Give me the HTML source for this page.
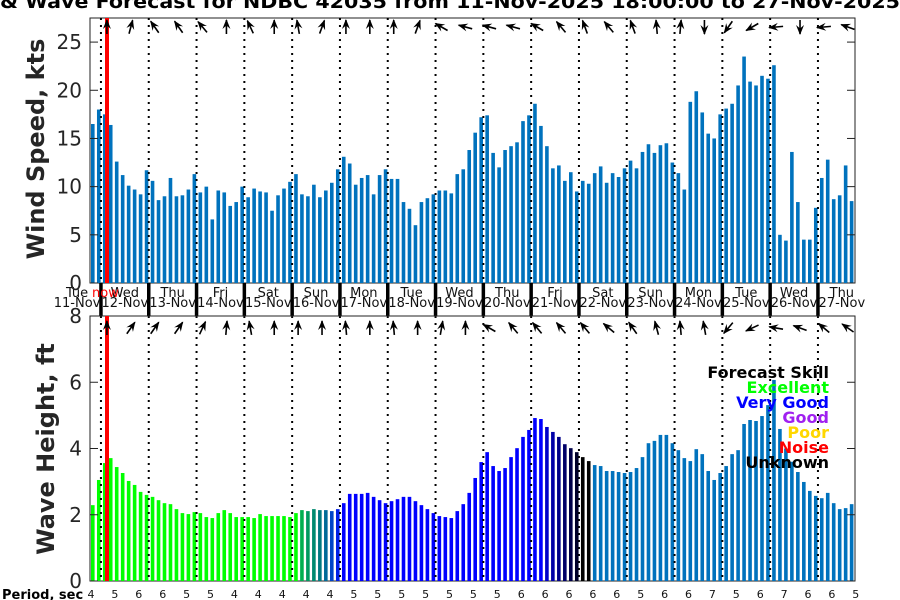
<!DOCTYPE html>
<html><head><meta charset="utf-8"><style>
body{margin:0;background:#fff}
svg{display:block;font-family:"DejaVu Sans","Liberation Sans",sans-serif}
</style></head><body>
<svg id="c" width="900" height="600" viewBox="0 0 900 600"></svg>
<script>
const windSpeed=[16.5,18.0,17.5,16.4,12.6,11.2,10.1,9.7,9.2,11.7,10.6,8.6,9.0,10.9,9.0,9.1,9.7,11.3,9.4,10.0,6.6,9.6,9.4,8.0,8.4,10.0,8.9,9.8,9.5,9.4,7.5,9.1,9.8,10.5,11.3,9.2,9.0,10.2,8.9,9.6,10.4,11.8,13.1,12.4,10.2,10.9,11.2,9.2,11.2,11.8,10.8,10.8,8.4,7.7,6.0,8.4,8.8,9.2,9.6,9.6,
9.3,11.3,11.8,13.8,15.6,17.2,17.4,13.5,12.0,13.8,14.2,14.6,16.8,17.4,18.6,16.3,14.2,11.9,12.2,10.6,11.5,9.5,10.6,10.3,11.4,12.1,10.4,11.4,11.0,11.9,12.7,11.9,13.6,14.4,13.5,14.3,14.5,12.5,11.4,9.7,18.8,19.9,17.7,15.5,15.0,17.5,18.1,18.6,20.5,23.5,20.9,20.5,21.5,21.2,22.6,5.0,4.4,13.6,8.4,4.5,4.5,7.8,10.9,12.8,8.7,9.1,12.2,8.5];
const waveHeight=[2.29,3.05,3.56,3.71,3.44,3.26,3.02,2.90,2.69,2.60,2.54,2.44,2.35,2.32,2.17,2.05,2.02,2.08,2.05,1.93,1.90,2.05,2.14,2.05,1.93,1.93,1.93,1.90,2.02,1.96,1.96,1.96,1.96,1.93,2.05,2.14,2.11,2.17,2.14,2.14,2.11,2.17,2.35,2.63,2.63,2.63,2.66,2.54,2.44,2.35,2.41,2.47,2.54,2.54,2.41,2.29,2.17,2.05,1.96,1.93,
1.90,2.11,2.32,2.66,3.11,3.59,3.89,3.47,3.32,3.41,3.74,4.01,4.35,4.56,4.92,4.89,4.65,4.50,4.35,4.13,4.01,3.89,3.74,3.62,3.50,3.47,3.32,3.32,3.29,3.26,3.29,3.41,3.74,4.16,4.23,4.41,4.41,4.16,3.95,3.71,3.62,3.98,3.83,3.32,3.05,3.26,3.47,3.83,3.95,4.74,4.86,4.83,4.98,5.31,6.07,4.59,4.0,3.6,3.29,2.99,2.72,2.57,2.50,2.66,2.35,2.17,2.20,2.32];
const waveColorIdx={35:'#00b050',36:'#009a60',37:'#008a70',38:'#007a80',39:'#006a98',40:'#0045c8',41:'#0020e8',76:'#0000c8',77:'#0000a8',78:'#000088',79:'#000068',80:'#000048',81:'#000028',82:'#000000',83:'#000000'};
const windDir=[0,15,-35,-35,-40,0,-25,0,-10,20,0,0,0,20,-60,-75,-75,-75,-60,-40,-20,-40,-20,-5,5,180,-145,-120,-95,180,-95,-70];
const waveDir=[0,35,35,35,25,5,-10,0,0,0,-5,0,-5,0,10,0,-60,-40,-40,-40,-40,-50,-35,-15,-5,-10,-140,-115,-80,-70,-50,-55];
const periods=[4,5,6,6,5,5,4,4,4,4,4,5,5,5,5,5,5,5,6,6,6,6,6,5,6,6,7,5,6,7,6,6,5];
const dayNames=['Tue','Wed','Thu','Fri','Sat','Sun','Mon','Tue','Wed','Thu','Fri','Sat','Sun','Mon','Tue','Wed','Thu'];
const dayDates=['11-Nov','12-Nov','13-Nov','14-Nov','15-Nov','16-Nov','17-Nov','18-Nov','19-Nov','20-Nov','21-Nov','22-Nov','23-Nov','24-Nov','25-Nov','26-Nov','27-Nov'];
const windTicks=[0,5,10,15,20,25];
const waveTicks=[0,2,4,6,8];
const legendLabels=['Forecast Skill','Excellent','Very Good','Good','Poor','Noise','Unknown'];
const legendColors=['#000','#00ff00','#0000ff','#a020f0','#ffd700','#ff0000','#000'];

const S=document.getElementById('c'),NS='http://www.w3.org/2000/svg';
function mk(t,a,p){const e=document.createElementNS(NS,t);for(const k in a)e.setAttribute(k,a[k]);(p||S).appendChild(e);return e;}
const L=90,R=855,T1=18,B1=283,T2=316,B2=581;
const xT=t=>89+t*(47.8/24);
const yW=v=>B1-v*(B1-T1)/27.5;
const yH=v=>B2-v*(B2-T2)/8;
let e;
e=mk('rect',{x:L,y:T1,width:R-L,height:B1-T1,fill:'#fff',stroke:'#222'});

e=mk('rect',{x:L,y:T2,width:R-L,height:B2-T2,fill:'#fff',stroke:'#222'});

windSpeed.forEach((v,i)=>{const x=xT(3*i)+2;
 const b=mk('rect',{x:x,y:yW(v),width:3.6,height:B1-yW(v),fill:'#0072bd'});
 
 });
waveHeight.forEach((v,i)=>{const x=xT(3*i)+2;
 const c=waveColorIdx[i]||(i<35?'#00ff00':(i<84?'#0000ff':'#0072bd'));
 const b=mk('rect',{x:x,y:yH(v),width:3.6,height:B2-yH(v),fill:c});
 
 });
for(let k=0;k<16;k++){const x=xT(6+24*k);
 mk('line',{x1:x,y1:T1,x2:x,y2:B1,stroke:'#000','stroke-width':2,'stroke-dasharray':'2,5'});
 mk('line',{x1:x,y1:T2,x2:x,y2:B2,stroke:'#000','stroke-width':2,'stroke-dasharray':'2,5'});
 const d=mk('line',{x1:x,y1:B1,x2:x,y2:T2,stroke:'#000','stroke-width':3.5});
 }
dayNames.forEach((n,k)=>{const x=xT(6+24*k-12);
 const a=mk('text',{x:x,y:297,'font-size':13,'text-anchor':'middle',fill:'#111'});a.textContent=n;
 
 const b=mk('text',{x:x,y:307,'font-size':13,'text-anchor':'middle',fill:'#111'});b.textContent=dayDates[k];
 });
mk('line',{x1:L,y1:T2,x2:R,y2:T2,stroke:'#222'});
e=mk('rect',{x:105,y:T1,width:4,height:B1-T1,fill:'#ff0000'});
e=mk('rect',{x:105,y:T2,width:4,height:B2-T2,fill:'#ff0000'});
e=mk('text',{x:92,y:297,'font-size':13,fill:'#ff0000'});e.textContent='now';
windTicks.forEach(v=>{const y=yW(v);mk('line',{x1:L,y1:y,x2:L+8,y2:y,stroke:'#222'});mk('line',{x1:R-8,y1:y,x2:R,y2:y,stroke:'#222'});
 const t=mk('text',{x:82,y:y+7,'font-size':20,'text-anchor':'end',fill:'#262626'});t.textContent=v;
 });
waveTicks.forEach(v=>{const y=yH(v);mk('line',{x1:L,y1:y,x2:L+8,y2:y,stroke:'#222'});mk('line',{x1:R-8,y1:y,x2:R,y2:y,stroke:'#222'});
 const t=mk('text',{x:82,y:y+7,'font-size':20,'text-anchor':'end',fill:'#262626'});t.textContent=v;
 });
function arrow(x,y,ang,name){const g=mk('g',{transform:`translate(${x},${y}) rotate(${ang})`});
 
 mk('line',{x1:0,y1:7,x2:0,y2:-7,stroke:'#000','stroke-width':1.6},g);
 mk('path',{d:'M0,-8 L-4,2 L0,-1.5 L4,2 Z',fill:'#000'},g);}
windDir.forEach((a,k)=>arrow(xT(9+12*k),27,a,'wind-direction-arrow'));
waveDir.forEach((a,k)=>arrow(xT(9+12*k),328,a,'wave-direction-arrow'));
e=mk('text',{x:2,y:599,'font-size':13,'font-weight':'bold',fill:'#000'});e.textContent='Period, sec';
periods.forEach((p,k)=>{const t=mk('text',{x:xT(12*k)+2,y:598,'font-size':11,'text-anchor':'middle',fill:'#111'});t.textContent=p;
 });
e=mk('text',{transform:'translate(44,149) rotate(-90)','font-size':24,'font-weight':'bold','text-anchor':'middle',fill:'#262626'});e.textContent='Wind Speed, kts';
e=mk('text',{transform:'translate(54,449) rotate(-90)','font-size':24,'font-weight':'bold','text-anchor':'middle',fill:'#262626'});e.textContent='Wave Height, ft';
e=mk('text',{x:0,y:8,'font-size':19,'font-weight':'bold',fill:'#000',textLength:900,lengthAdjust:'spacingAndGlyphs'});e.textContent='& Wave Forecast for NDBC 42035 from 11-Nov-2025 18:00:00 to 27-Nov-2025';
legendLabels.forEach((s,k)=>{const t=mk('text',{x:829,y:378+15*k,'font-size':16,'font-weight':'bold','text-anchor':'end',fill:legendColors[k]});t.textContent=s;
 });
</script>
</body></html>
